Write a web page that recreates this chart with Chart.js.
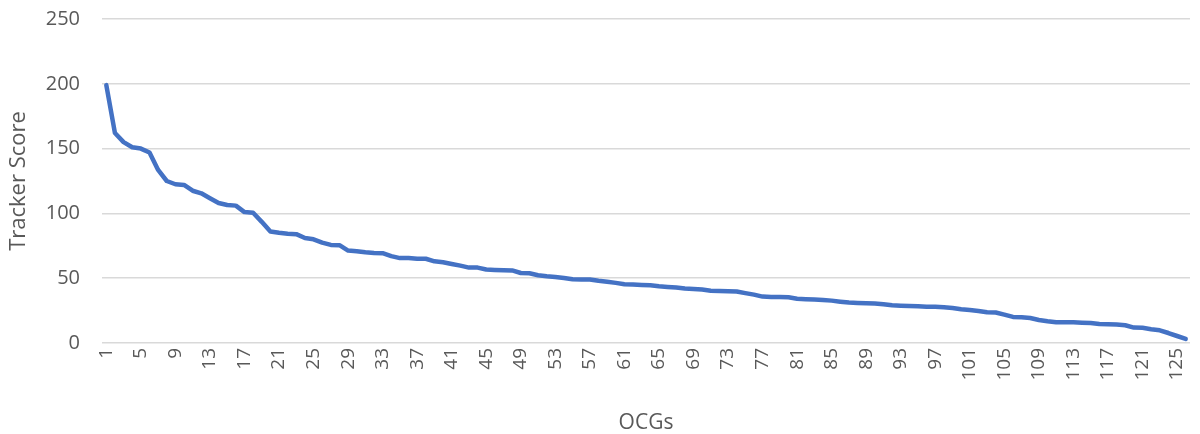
<!DOCTYPE html>
<html>
<head>
<meta charset="utf-8">
<script src="https://cdn.jsdelivr.net/npm/chart.js@4/dist/chart.umd.min.js"></script>
<style>
  html, body { margin: 0; padding: 0; background: #ffffff; }
  #wrap { width: 1200px; height: 434px; }
</style>
</head>
<body>
<div id="wrap"><canvas id="chart" width="1200" height="434"></canvas></div>
<script>
// OCG rank (1..126) on the x axis
const ocgs = Array.from({ length: 126 }, (_, i) => String(i + 1));

// Tracker score per OCG, sorted from highest to lowest
const trackerScores = [
  199, 162, 155, 151, 150, 147, 133.5, 125, 122.5, 122,
  117.5, 115.5, 111.7, 108, 106.5, 106, 101, 100.5, 93.5, 86,
  85, 84.3, 84, 81, 80, 77.5, 75.7, 75.5, 71.3, 70.8,
  70, 69.5, 69.3, 67, 65.5, 65.5, 65, 65, 63, 62.3,
  61, 59.7, 58.2, 58.2, 56.7, 56.4, 56.2, 56, 54, 53.8,
  52.3, 51.5, 51, 50.2, 49.2, 49, 49, 48, 47.2, 46.4,
  45.4, 45.2, 44.8, 44.5, 43.8, 43.3, 42.8, 42, 41.7, 41.2,
  40.4, 40.2, 40, 39.8, 38.5, 37.3, 35.8, 35.5, 35.5, 35.3,
  34.2, 33.8, 33.5, 33.2, 32.7, 31.9, 31.2, 30.9, 30.7, 30.4,
  29.9, 29.1, 28.8, 28.6, 28.3, 28, 28, 27.6, 27, 26.1,
  25.5, 24.7, 23.7, 23.5, 21.9, 20.1, 19.9, 19.3, 17.8, 16.8,
  16, 16, 16, 15.7, 15.5, 14.7, 14.5, 14.2, 13.7, 11.9,
  11.7, 10.6, 9.8, 7.7, 5.4, 3.1
];

// Value axis ticks
const yTicks = [0, 50, 100, 150, 200, 250];

const textColor = '#595959';
const gridColor = '#d9d9d9';
const fontFamily = '"Open Sans", "Noto Sans", sans-serif';

new Chart(document.getElementById('chart'), {
  type: 'line',
  data: {
    labels: ocgs,
    datasets: [{
      label: 'Tracker Score',
      data: trackerScores,
      borderColor: '#4472C4',
      backgroundColor: '#4472C4',
      borderWidth: 4.5,
      borderJoinStyle: 'round',
      borderCapStyle: 'round',
      pointRadius: 0,
      pointHoverRadius: 0,
      tension: 0,
      fill: false
    }]
  },
  options: {
    responsive: false,
    animation: false,
    layout: { padding: { top: 19, right: 10, bottom: 0, left: 0 } },
    plugins: {
      legend: { display: false },
      tooltip: { enabled: false }
    },
    scales: {
      x: {
        offset: true,
        grid: { display: false, drawTicks: false },
        border: { display: false },
        ticks: {
          autoSkip: false,
          minRotation: 90,
          maxRotation: 90,
          padding: 5,
          color: textColor,
          font: { family: fontFamily, size: 19 },
          callback: function (value, index) {
            return index % 4 === 0 ? this.getLabelForValue(value) : '';
          }
        },
        title: {
          display: true,
          text: 'OCGs',
          color: textColor,
          font: { family: fontFamily, size: 21, lineHeight: 1 },
          padding: { top: 0, bottom: 0 }
        },
        afterFit: (scale) => {
          scale.height = 91;
          scale.paddingLeft = 0;
          scale.paddingRight = 0;
        }
      },
      y: {
        min: 0,
        max: 250,
        afterBuildTicks: (scale) => { scale.ticks = yTicks.map(v => ({ value: v })); },
        grid: { color: gridColor, lineWidth: 1.5, drawTicks: false },
        border: { display: false },
        ticks: {
          padding: 22,
          color: textColor,
          font: { family: fontFamily, size: 20 }
        },
        title: {
          display: true,
          text: 'Tracker Score',
          color: textColor,
          font: { family: fontFamily, size: 22, lineHeight: 1.2 },
          padding: { top: 6, bottom: 0 }
        },
        afterFit: (scale) => {
          scale.width = 102;
          scale.paddingTop = 0;
          scale.paddingBottom = 0;
        }
      }
    }
  }
});
</script>
</body>
</html>
